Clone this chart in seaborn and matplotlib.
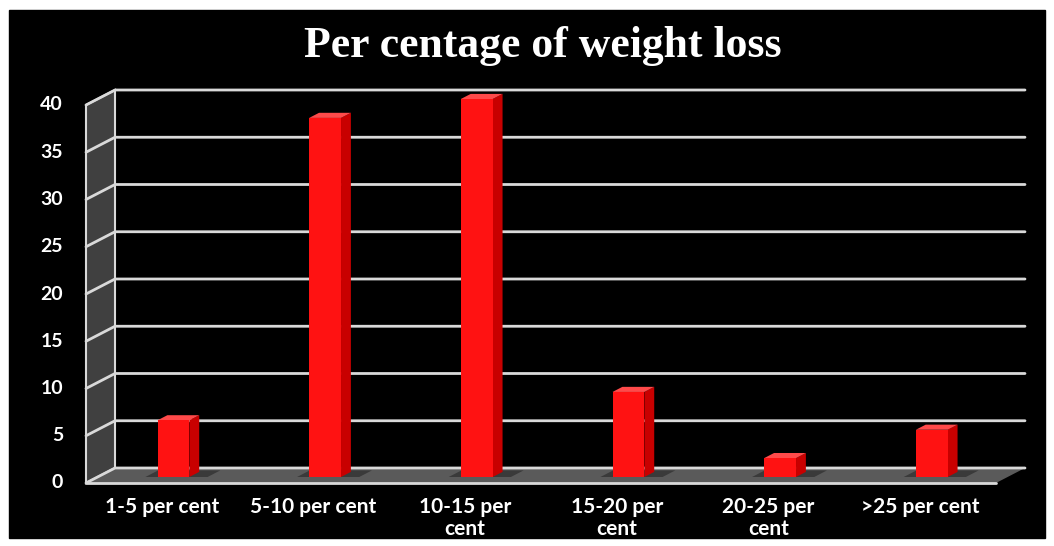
import numpy as np
import matplotlib
matplotlib.use("Agg")
import matplotlib.pyplot as plt
from matplotlib.patches import Polygon, Rectangle
from matplotlib.lines import Line2D
from matplotlib.transforms import ScaledTranslation, IdentityTransform
import seaborn as sns

# ── data ──────────────────────────────────────
categories = ["1-5 per cent", "5-10 per cent", "10-15 per cent",
              "15-20 per cent", "20-25 per cent", ">25 per cent"]
tick_labels = ["1-5 per cent", "5-10 per cent", "10-15 per\ncent",
               "15-20 per\ncent", "20-25 per\ncent", ">25 per cent"]
values = [6, 38, 40, 9, 2, 5]
y_ticks = [0, 5, 10, 15, 20, 25, 30, 35, 40]

# ── style ─────────────────────────────────────
sns.set_theme(style="white")
plt.rcParams["font.family"] = ["Lato", "DejaVu Sans"]
DPI = 100
W, H = 1054, 546
DEPTH_X, DEPTH_Y = -29, -15          # pixel shift back plane -> front plane
RED, RED_SIDE, RED_TOP = "#ff1212", "#c80000", "#ff4a4a"
GRID = "#d9d9d9"

fig = plt.figure(figsize=(W / DPI, H / DPI), dpi=DPI, facecolor="white")
fig.patches.append(Rectangle((9 / W, 8 / H), 1036 / W, 528 / H,
                             transform=fig.transFigure, color="black", zorder=-5))

# axes = back plane of the 3D box
ax = fig.add_axes([115 / W, (H - 468) / H, 910 / W, 378 / H])
ax.set_facecolor("none")
sns.barplot(x=categories, y=values, color=RED, width=0.21, saturation=1,
            ax=ax, zorder=5)
bars = list(ax.patches)
ax.set_ylim(0, 40)
ax.set_xlim(-0.5, len(categories) - 0.5)
ax.set_xticks([])
ax.set_yticks([])
ax.set_xlabel("")
ax.set_ylabel("")
for s in ax.spines.values():
    s.set_visible(False)


def off(d):
    return ScaledTranslation(DEPTH_X * d / DPI, DEPTH_Y * d / DPI, fig.dpi_scale_trans)


def px(x, y, d):
    X, Y = ax.transData.transform((x, y))
    return (X + DEPTH_X * d, Y + DEPTH_Y * d)


def add(artist):
    ax.add_artist(artist)
    artist.set_clip_on(False)


x0, x1 = ax.get_xlim()
ident = IdentityTransform()

# left wall and floor
add(Polygon([px(x0, 0, 0), px(x0, 40, 0), px(x0, 40, 1), px(x0, 0, 1)],
            closed=True, facecolor="#404040", edgecolor=GRID, lw=1.5,
            transform=ident, zorder=1))
add(Polygon([px(x0, 0, 0), px(x1, 0, 0), px(x1, 0, 1), px(x0, 0, 1)],
            closed=True, facecolor="#5a5a5a", edgecolor="none",
            transform=ident, zorder=1))
fx, fy = zip(px(x0, 0, 1), px(x1, 0, 1))
add(Line2D(fx, fy, color=GRID, lw=2, transform=ident, zorder=2))

# gridlines
for v in y_ticks:
    pts = [px(x0, v, 1), px(x0, v, 0), px(x1, v, 0)]
    gx, gy = zip(*pts)
    add(Line2D(gx, gy, color=GRID, lw=2, transform=ident, zorder=2))
    ax.text(x0, v, str(v), transform=ax.transData + off(1) +
            ScaledTranslation(-23 / DPI, 0, fig.dpi_scale_trans),
            ha="right", va="center", color="white", fontsize=14,
            fontweight="bold")

# bars: front face at mid depth, plus side and top faces
D_FRONT, D_BACK = 0.6, 0.26
for p in bars:
    bx0, bx1 = p.get_x(), p.get_x() + p.get_width()
    h = p.get_height()
    p.set_transform(ax.transData + off(D_FRONT))
    p.set_edgecolor("none")
    p.set_clip_on(False)
    side = [px(bx1, 0, D_FRONT), px(bx1, h, D_FRONT), px(bx1, h, D_BACK), px(bx1, 0, D_BACK)]
    top = [px(bx0, h, D_FRONT), px(bx1, h, D_FRONT), px(bx1, h, D_BACK), px(bx0, h, D_BACK)]
    shadow = [px(bx0 - 0.08, 0, D_FRONT), px(bx1 + 0.12, 0, D_FRONT),
              px(bx1 + 0.12, 0, D_BACK - 0.1), px(bx0 - 0.08, 0, D_BACK - 0.1)]
    add(Polygon(shadow, closed=True, facecolor="#3a3a3a", edgecolor="none",
                transform=ident, zorder=3))
    add(Polygon(side, closed=True, facecolor=RED_SIDE, edgecolor="none",
                transform=ident, zorder=4))
    add(Polygon(top, closed=True, facecolor=RED_TOP, edgecolor="none",
                transform=ident, zorder=4))

# category labels under the front edge of the floor
for i, lab in enumerate(tick_labels):
    ax.text(i, 0, lab, transform=ax.transData + off(1) +
            ScaledTranslation(0, -14 / DPI, fig.dpi_scale_trans),
            ha="center", va="top", color="white", fontsize=15,
            fontweight="bold", linespacing=1.1)

fig.text(543 / W, 1 - 46 / H, "Per centage of weight loss", ha="center", va="center",
         color="white", fontsize=31.5, fontweight="bold",
         family=["Liberation Serif", "DejaVu Serif"])

fig.savefig("out.png", dpi=DPI, facecolor="white")
